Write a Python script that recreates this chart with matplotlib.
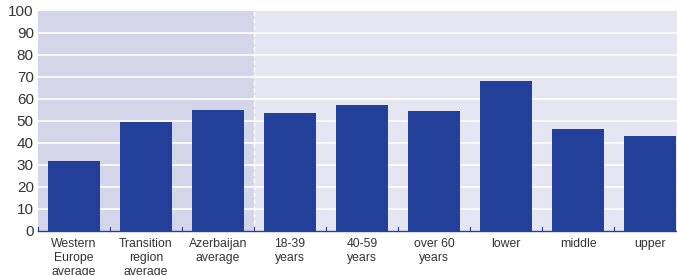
import matplotlib
matplotlib.use("Agg")
import matplotlib.pyplot as plt

categories = [
    "Western\nEurope\naverage",
    "Transition\nregion\naverage",
    "Azerbaijan\naverage",
    "18-39\nyears",
    "40-59\nyears",
    "over 60\nyears",
    "lower",
    "middle",
    "upper",
]
values = [31.8, 49.5, 55.0, 53.6, 57.3, 54.5, 68.2, 46.4, 43.2]
yticks = [0, 10, 20, 30, 40, 50, 60, 70, 80, 90, 100]

BAR = "#22409a"
BG_LEFT = "#d5d5ea"
BG_RIGHT = "#e6e6f3"
TXT = "#333333"

plt.rcParams["font.family"] = ["Liberation Sans", "DejaVu Sans"]

fig = plt.figure(figsize=(6.77, 2.75), dpi=100)
W, H = 677, 275
ax = fig.add_axes([38 / W, 44 / H, 648 / W, 220 / H])

n = len(categories)
x = list(range(n))
ax.set_xlim(-0.5, n - 0.5)
ax.set_ylim(0, 100)

# shaded backgrounds: first three categories vs. the rest
ax.set_facecolor(BG_RIGHT)
ax.axvspan(-0.5, 2.5, color=BG_LEFT, zorder=0, lw=0)
for y in yticks[1:-1]:
    ax.axhline(y, color="white", lw=1.2, zorder=1)
ax.axvline(2.5, color="white", lw=1.0, ls=(0, (3, 2)), zorder=1)

ax.bar(x, values, width=52 / 72, color=BAR, zorder=2)

for s in ["top", "right", "left"]:
    ax.spines[s].set_visible(False)
ax.spines["bottom"].set_color(BAR)
ax.spines["bottom"].set_linewidth(1.0)
ax.spines["bottom"].set_zorder(3)

# small ticks at category boundaries
for b in range(n):
    ax.plot([b - 0.5, b - 0.5], [0, 1.8], color=BAR, lw=0.8, zorder=3, clip_on=False)

ax.set_yticks(yticks)
ax.set_yticklabels([str(v) for v in yticks], fontsize=11, color=TXT)
ax.tick_params(axis="y", length=0, pad=3)
ax.set_xticks(x)
ax.set_xticklabels(categories, fontsize=8.8, color=TXT, linespacing=1.2)
ax.tick_params(axis="x", length=0, pad=5)

fig.savefig("out.png", dpi=100)
